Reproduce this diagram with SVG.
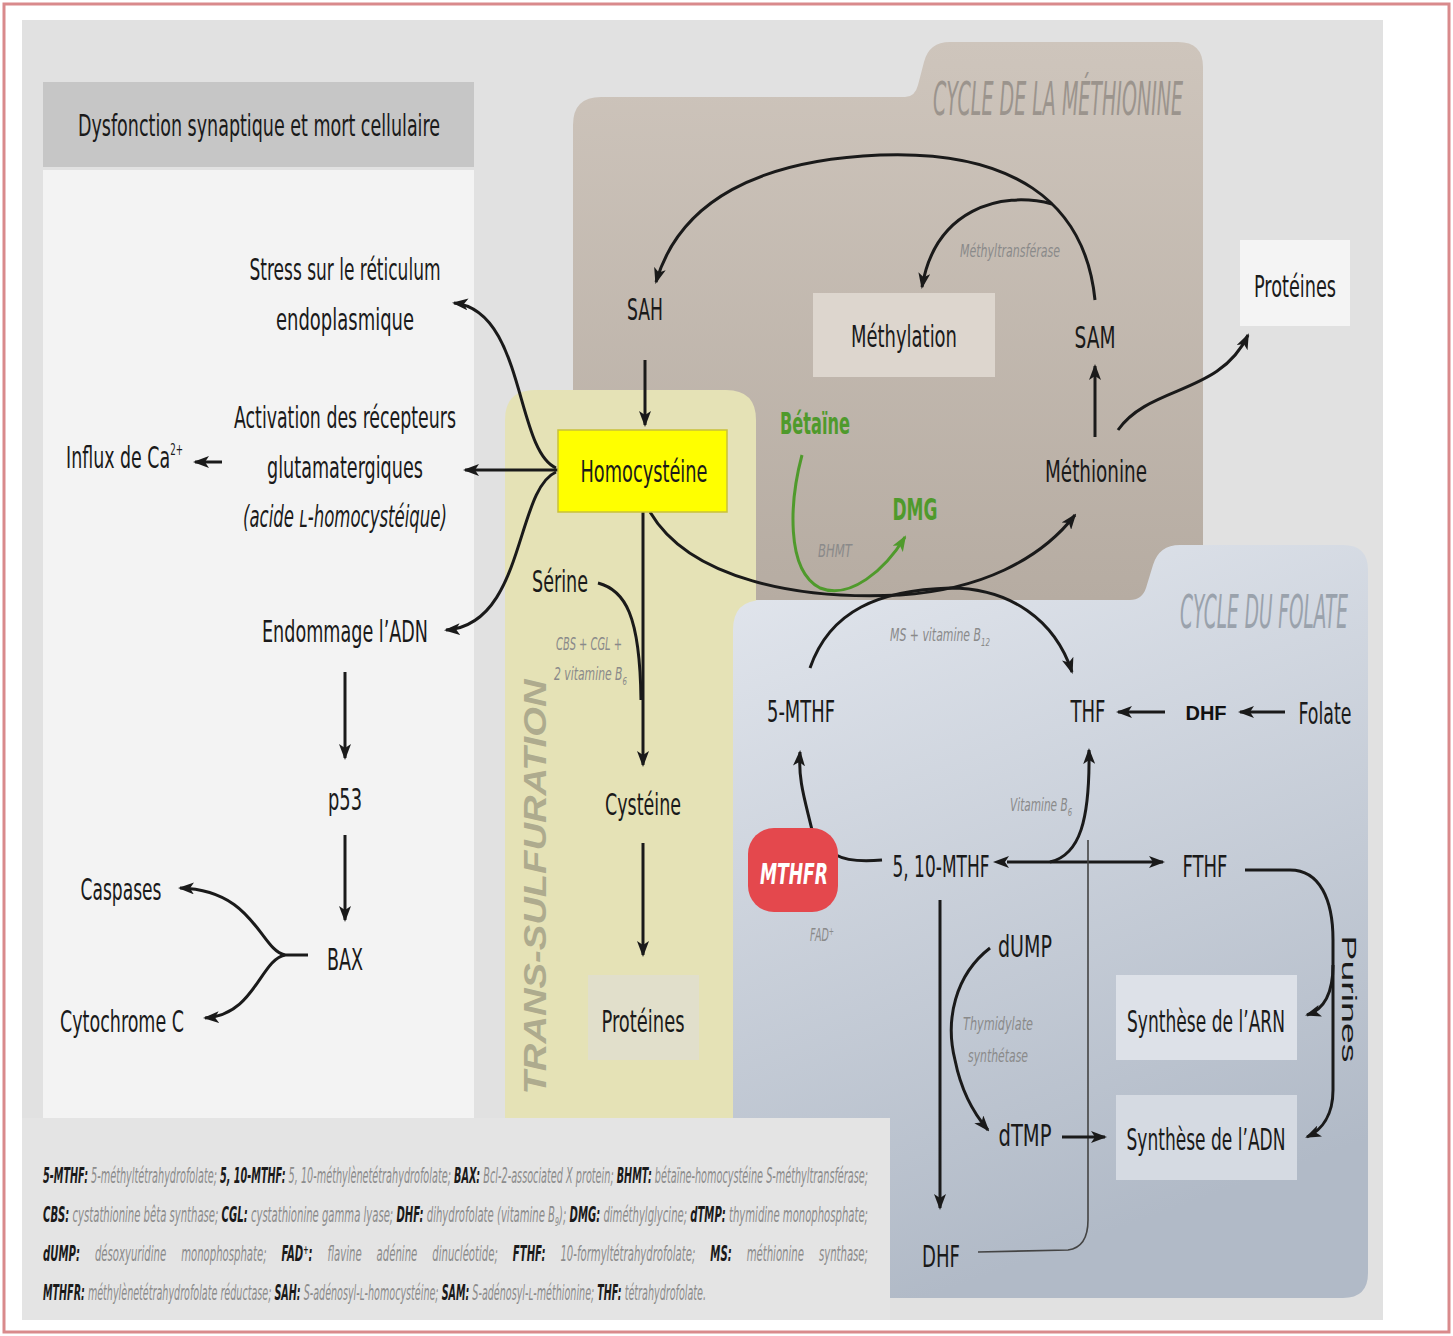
<svg xmlns="http://www.w3.org/2000/svg" width="1453" height="1336" viewBox="0 0 1453 1336">
<style>
.t{font-family:"Liberation Sans Narrow","DejaVu Sans Condensed","Roboto Condensed","Liberation Sans",sans-serif;font-size:30px;fill:#1a1a1a;}
.m{text-anchor:middle;}
.s{font-family:"Liberation Sans Narrow","DejaVu Sans Condensed","Liberation Sans",sans-serif;font-style:italic;font-size:17px;fill:#8a8a8a;}
.g{fill:#4f9a2c;font-weight:bold;}
.lg{font-family:"Liberation Sans Narrow","DejaVu Sans Condensed","Liberation Sans",sans-serif;font-size:21px;font-style:italic;fill:#8c8c8c;}
.lg tspan.b{font-weight:bold;fill:#1a1a1a;font-style:italic;}
.a{fill:none;stroke:#1a1a1a;stroke-width:3;marker-end:url(#ah);}
.ag{fill:none;stroke:#4f9a2c;stroke-width:3;marker-end:url(#ahg);}
.l{fill:none;stroke:#1a1a1a;stroke-width:3;}
.title{font-family:"Liberation Sans Narrow","DejaVu Sans Condensed","Liberation Sans",sans-serif;font-style:italic;font-size:46px;}
</style>
<defs>
<marker id="ah" viewBox="0 0 16 12" refX="14" refY="6" markerWidth="16" markerHeight="12" markerUnits="userSpaceOnUse" orient="auto">
<path d="M0,0 L16,6 L0,12 L4,6 z" fill="#1a1a1a"/>
</marker>
<marker id="ahs" viewBox="0 0 16 12" refX="2" refY="6" markerWidth="16" markerHeight="12" markerUnits="userSpaceOnUse" orient="auto-start-reverse">
<path d="M0,0 L16,6 L0,12 L4,6 z" fill="#1a1a1a"/>
</marker>
<marker id="ahg" viewBox="0 0 16 12" refX="14" refY="6" markerWidth="16" markerHeight="12" markerUnits="userSpaceOnUse" orient="auto">
<path d="M0,0 L16,6 L0,12 L4,6 z" fill="#4f9a2c"/>
</marker>
<linearGradient id="gm" x1="0" y1="0" x2="0" y2="1">
<stop offset="0" stop-color="#cec5bc"/>
<stop offset="1" stop-color="#b6aca2"/>
</linearGradient>
<linearGradient id="gf" x1="0" y1="0" x2="0.3" y2="1">
<stop offset="0" stop-color="#e3e7ee"/>
<stop offset="1" stop-color="#b1bac7"/>
</linearGradient>
</defs>

<!-- frame and background -->
<rect x="4" y="4" width="1445" height="1328" fill="#ffffff" stroke="#d98a8c" stroke-width="3"/>
<rect x="22" y="20" width="1361" height="1300" fill="#e1e1e1"/>

<!-- left panel -->
<g id="panel-dysfonction">
<rect x="43" y="82" width="431" height="85" fill="#c6c6c6"/>
<rect x="43" y="170" width="431" height="948" fill="#f3f3f3"/>
<text class="t" x="78" y="136" font-size="32" textLength="362" lengthAdjust="spacingAndGlyphs">Dysfonction synaptique et mort cellulaire</text>
</g>

<!-- methionine cycle region -->
<g id="region-methionine">
<path d="M573,125 Q573,97 601,97 L905,97 Q915,97 918,85 L924,62 Q929,42 950,42 L1178,42 Q1203,42 1203,67 L1203,600 L573,600 Z" fill="url(#gm)"/>
<text class="title" x="933" y="115" fill="#9b948d" textLength="250" lengthAdjust="spacingAndGlyphs">CYCLE DE LA MÉTHIONINE</text>
</g>

<!-- trans-sulfuration region -->
<g id="region-transsulfuration">
<path d="M505,1118 L505,420 Q505,390 535,390 L726,390 Q756,390 756,420 L756,1118 Z" fill="#e5e2b6"/>
<text x="0" y="0" transform="translate(546,887) rotate(-90)" text-anchor="middle" font-family="Liberation Sans, Arial, sans-serif" font-weight="bold" font-style="italic" font-size="31" fill="#aeab8e" textLength="415" lengthAdjust="spacingAndGlyphs">TRANS-SULFURATION</text>
</g>

<!-- folate cycle region -->
<g id="region-folate">
<path d="M733,1118 L733,630 Q733,600 763,600 L1130,600 Q1142,600 1146,588 L1153,565 Q1159,545 1180,545 L1343,545 Q1368,545 1368,570 L1368,1273 Q1368,1298 1343,1298 L890,1298 L890,1118 Z" fill="url(#gf)"/>
<text class="title" x="1180" y="628" font-size="44" fill="#9aa2ac" textLength="168" lengthAdjust="spacingAndGlyphs">CYCLE DU FOLATE</text>
</g>

<!-- legend -->
<g id="legend">
<rect x="22" y="1118" width="868" height="202" fill="#e4e4e4"/>
<text class="lg" x="43" y="1183" textLength="825" lengthAdjust="spacingAndGlyphs"><tspan class="b">5-MTHF:</tspan> 5-méthyltétrahydrofolate; <tspan class="b">5, 10-MTHF:</tspan> 5, 10-méthylènetétrahydrofolate; <tspan class="b">BAX:</tspan> Bcl-2-associated X protein; <tspan class="b">BHMT:</tspan> bétaïne-homocystéine S-méthyltransférase;</text>
<text class="lg" x="43" y="1222" textLength="825" lengthAdjust="spacingAndGlyphs"><tspan class="b">CBS:</tspan> cystathionine bêta synthase; <tspan class="b">CGL:</tspan> cystathionine gamma lyase; <tspan class="b">DHF:</tspan> dihydrofolate (vitamine B<tspan font-size="13" dy="4">9</tspan><tspan dy="-4">); </tspan><tspan class="b">DMG:</tspan> diméthylglycine; <tspan class="b">dTMP:</tspan> thymidine monophosphate;</text>
<text class="lg" x="43" y="1261" word-spacing="22" textLength="825" lengthAdjust="spacingAndGlyphs"><tspan class="b">dUMP:</tspan> désoxyuridine monophosphate; <tspan class="b">FAD<tspan font-size="13" dy="-7">+</tspan><tspan dy="7">:</tspan></tspan> flavine adénine dinucléotide; <tspan class="b">FTHF:</tspan> 10-formyltétrahydrofolate; <tspan class="b">MS:</tspan> méthionine synthase;</text>
<text class="lg" x="43" y="1300" textLength="663" lengthAdjust="spacingAndGlyphs"><tspan class="b">MTHFR:</tspan> méthylènetétrahydrofolate réductase; <tspan class="b">SAH:</tspan> S-adénosyl-ʟ-homocystéine; <tspan class="b">SAM:</tspan> S-adénosyl-ʟ-méthionine; <tspan class="b">THF:</tspan> tétrahydrofolate.</text>
</g>

<!-- connectors -->
<g id="connectors">
<path class="a" d="M1095,300 C1085,200 1010,150 880,155 C760,160 680,200 656,282"/>
<path class="a" d="M1052,204 C1000,190 935,210 922,287"/>
<path class="a" d="M645,360 L645,425"/>
<path class="a" d="M650,512 C690,580 800,600 900,595 C980,590 1040,560 1075,515"/>
<path class="a" d="M810,668 C830,610 880,590 950,588 C1010,588 1055,620 1072,672"/>
<path class="a" d="M1095,437 L1095,366"/>
<path class="a" d="M1118,430 C1150,385 1220,395 1248,335"/>
<path class="ag" d="M802,455 C790,500 785,570 820,588 C850,600 885,570 905,537"/>
<path class="a" d="M643,512 L643,765"/>
<path class="l" d="M598,583 C625,590 640,615 641,700"/>
<path class="a" d="M643,843 L643,955"/>
<path class="a" d="M558,470 L465,470"/>
<path class="a" d="M556,468 C515,450 525,310 454,303"/>
<path class="a" d="M556,472 C515,490 525,625 446,630"/>
<path class="a" d="M222,462 L195,462"/>
<path class="a" d="M345,672 L345,758"/>
<path class="a" d="M345,835 L345,920"/>
<path class="l" d="M308,955 L285,955"/>
<path class="a" d="M285,955 C260,950 255,890 180,888"/>
<path class="a" d="M285,955 C260,960 255,1015 205,1018"/>
<path class="l" d="M882,860 C860,862 845,860 836,855"/>
<path class="a" d="M812,830 C805,800 798,780 800,752"/>
<path class="a" d="M1007,862 L1163,862" marker-start="url(#ahs)"/>
<path class="a" d="M1050,862 C1080,855 1090,820 1089,750"/>
<path fill="none" stroke="#444" stroke-width="1.6" d="M978,1252 L1068,1250 C1083,1248 1088,1236 1088,1220 L1088,840"/>
<path class="a" d="M1165,712 L1118,712"/>
<path class="a" d="M1285,712 L1240,712"/>
<path class="a" d="M940,900 L940,1208"/>
<path class="a" d="M990,948 C955,975 945,1020 955,1060 C962,1095 975,1115 988,1130"/>
<path class="a" d="M1062,1137 L1105,1137"/>
<path class="a" d="M1245,870 L1290,870 C1320,870 1333,900 1333,940 L1333,1090 C1333,1115 1322,1130 1307,1137"/>
<path class="a" d="M1333,965 C1333,995 1323,1010 1307,1015"/>
</g>

<!-- small labels -->
<g id="labels">
<text class="s" x="960" y="257" textLength="100" lengthAdjust="spacingAndGlyphs">Méthyltransférase</text>
<text class="s" x="818" y="557" fill="#9a9a8e" textLength="34" lengthAdjust="spacingAndGlyphs">BHMT</text>
<text class="s" x="556" y="650" textLength="66" lengthAdjust="spacingAndGlyphs">CBS + CGL +</text>
<text class="s" x="554" y="680" textLength="73" lengthAdjust="spacingAndGlyphs">2 vitamine B<tspan font-size="11" dy="5">6</tspan></text>
<text class="s" x="890" y="641" textLength="100" lengthAdjust="spacingAndGlyphs">MS + vitamine B<tspan font-size="11" dy="5">12</tspan></text>
<text class="s" x="1010" y="811" textLength="62" lengthAdjust="spacingAndGlyphs">Vitamine B<tspan font-size="11" dy="5">6</tspan></text>
<text class="s" x="810" y="941" textLength="24" lengthAdjust="spacingAndGlyphs">FAD<tspan font-size="11" dy="-6">+</tspan></text>
<text class="s" x="998" y="1030" text-anchor="middle" textLength="70" lengthAdjust="spacingAndGlyphs">Thymidylate</text>
<text class="s" x="998" y="1062" text-anchor="middle" textLength="60" lengthAdjust="spacingAndGlyphs">synthétase</text>
</g>

<!-- nodes -->
<g id="node-sah"><text class="t m" x="645" y="320" textLength="36" lengthAdjust="spacingAndGlyphs">SAH</text></g>
<g id="node-methylation"><rect x="813" y="293" width="182" height="84" fill="#ddd6ce"/><text class="t m" x="904" y="347" textLength="106" lengthAdjust="spacingAndGlyphs">Méthylation</text></g>
<g id="node-sam"><text class="t m" x="1095" y="348" textLength="41" lengthAdjust="spacingAndGlyphs">SAM</text></g>
<g id="node-proteines-1"><rect x="1240" y="240" width="110" height="86" fill="#f4f4f4"/><text class="t m" x="1295" y="297" textLength="82" lengthAdjust="spacingAndGlyphs">Protéines</text></g>
<g id="node-betaine"><text class="t m g" x="815" y="434" textLength="70" lengthAdjust="spacingAndGlyphs">Bétaïne</text></g>
<g id="node-dmg"><text class="t m g" x="915" y="520" textLength="45" lengthAdjust="spacingAndGlyphs">DMG</text></g>
<g id="node-methionine"><text class="t m" x="1096" y="482" textLength="102" lengthAdjust="spacingAndGlyphs">Méthionine</text></g>
<g id="node-homocysteine"><rect x="558" y="430" width="169" height="82" fill="#ffff00" stroke="#c9c13a" stroke-width="1.5"/><text class="t m" x="644" y="482" textLength="127" lengthAdjust="spacingAndGlyphs">Homocystéine</text></g>
<g id="node-serine"><text class="t m" x="560" y="592" textLength="56" lengthAdjust="spacingAndGlyphs">Sérine</text></g>
<g id="node-cysteine"><text class="t m" x="643" y="815" textLength="76" lengthAdjust="spacingAndGlyphs">Cystéine</text></g>
<g id="node-proteines-2"><rect x="588" y="975" width="111" height="85" fill="#e1dfcb"/><text class="t m" x="643" y="1032" textLength="83" lengthAdjust="spacingAndGlyphs">Protéines</text></g>

<g id="node-stress"><text class="t m" x="345" y="280" textLength="191" lengthAdjust="spacingAndGlyphs">Stress sur le réticulum</text><text class="t m" x="345" y="330" textLength="138" lengthAdjust="spacingAndGlyphs">endoplasmique</text></g>
<g id="node-activation"><text class="t m" x="345" y="428" textLength="222" lengthAdjust="spacingAndGlyphs">Activation des récepteurs</text><text class="t m" x="345" y="478" textLength="156" lengthAdjust="spacingAndGlyphs">glutamatergiques</text><text class="t m" x="345" y="527" font-style="italic" fill="#8a8a8a" textLength="204" lengthAdjust="spacingAndGlyphs">(acide ʟ-homocystéique)</text></g>
<g id="node-influx"><text class="t" x="66" y="468" textLength="117" lengthAdjust="spacingAndGlyphs">Influx de Ca<tspan font-size="15" dy="-13">2+</tspan></text></g>
<g id="node-endommage"><text class="t m" x="345" y="642" textLength="166" lengthAdjust="spacingAndGlyphs">Endommage l’ADN</text></g>
<g id="node-p53"><text class="t m" x="345" y="810" textLength="34" lengthAdjust="spacingAndGlyphs">p53</text></g>
<g id="node-bax"><text class="t m" x="345" y="970" textLength="36" lengthAdjust="spacingAndGlyphs">BAX</text></g>
<g id="node-caspases"><text class="t m" x="121" y="900" textLength="81" lengthAdjust="spacingAndGlyphs">Caspases</text></g>
<g id="node-cytochrome"><text class="t m" x="122" y="1032" textLength="124" lengthAdjust="spacingAndGlyphs">Cytochrome C</text></g>

<g id="node-5mthf"><text class="t m" x="801" y="722" textLength="68" lengthAdjust="spacingAndGlyphs">5-MTHF</text></g>
<g id="node-thf"><text class="t m" x="1088" y="722" textLength="35" lengthAdjust="spacingAndGlyphs">THF</text></g>
<g id="node-dhf-1"><text x="1206" y="720" text-anchor="middle" font-family="Liberation Sans, Arial, sans-serif" font-weight="bold" font-size="20" fill="#111">DHF</text></g>
<g id="node-folate"><text class="t m" x="1325" y="724" textLength="53" lengthAdjust="spacingAndGlyphs">Folate</text></g>
<g id="node-mthfr"><rect x="748" y="828" width="90" height="84" rx="26" fill="#e4484d"/><text x="794" y="884" text-anchor="middle" font-family="Liberation Sans Narrow, DejaVu Sans Condensed, Liberation Sans, sans-serif" font-weight="bold" font-style="italic" font-size="28" fill="#ffffff" textLength="68" lengthAdjust="spacingAndGlyphs">MTHFR</text></g>
<g id="node-510mthf"><text class="t m" x="941" y="877" textLength="97" lengthAdjust="spacingAndGlyphs">5, 10-MTHF</text></g>
<g id="node-fthf"><text class="t m" x="1205" y="877" textLength="45" lengthAdjust="spacingAndGlyphs">FTHF</text></g>
<g id="node-dump"><text class="t m" x="1025" y="957" textLength="54" lengthAdjust="spacingAndGlyphs">dUMP</text></g>
<g id="node-dtmp"><text class="t m" x="1025" y="1146" textLength="53" lengthAdjust="spacingAndGlyphs">dTMP</text></g>
<g id="node-arn"><rect x="1116" y="975" width="181" height="85" fill="#dde1e8"/><text class="t m" x="1206" y="1032" textLength="158" lengthAdjust="spacingAndGlyphs">Synthèse de l’ARN</text></g>
<g id="node-adn"><rect x="1116" y="1095" width="181" height="85" fill="#d5dae2"/><text class="t m" x="1206" y="1150" textLength="159" lengthAdjust="spacingAndGlyphs">Synthèse de l’ADN</text></g>
<g id="node-dhf-2"><text class="t m" x="941" y="1267" textLength="38" lengthAdjust="spacingAndGlyphs">DHF</text></g>
<g id="node-purines"><text x="0" y="0" transform="translate(1342,999) rotate(90)" text-anchor="middle" font-family="Liberation Sans, Arial, sans-serif" font-size="21" fill="#1a1a1a" textLength="127" lengthAdjust="spacingAndGlyphs">Purines</text></g>
</svg>
